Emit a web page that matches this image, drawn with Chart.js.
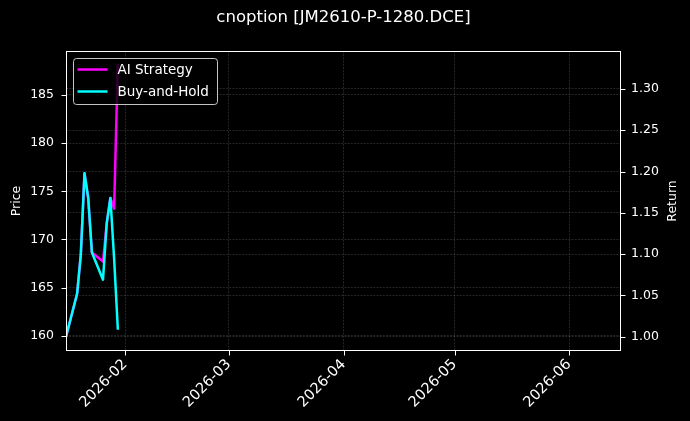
<!DOCTYPE html>
<html>
<head>
<meta charset="utf-8">
<title>cnoption [JM2610-P-1280.DCE]</title>
<script src="https://cdn.jsdelivr.net/npm/chart.js@4.4.0/dist/chart.umd.min.js"></script>
<style>
  html, body { margin: 0; padding: 0; background: #000; }
  #wrap { width: 690px; height: 421px; }
</style>
</head>
<body>
<div id="wrap"><canvas id="chart" width="690" height="421"></canvas></div>
<script>
// Trading days with a return value
var dates = ['2026-01-16', '2026-01-19', '2026-01-20', '2026-01-21', '2026-01-22', '2026-01-23',
             '2026-01-26', '2026-01-27', '2026-01-28', '2026-01-29', '2026-01-30'];
var aiStrategy = [1.000, 1.052, 1.099, 1.198, 1.168, 1.102, 1.091, 1.137, 1.168, 1.155, 1.329];
var buyAndHold = [1.000, 1.052, 1.099, 1.198, 1.168, 1.102, 1.069, 1.137, 1.168, 1.095, 1.010];

// Axis ticks
var monthTicks = ['2026-02-01', '2026-03-01', '2026-04-01', '2026-05-01', '2026-06-01'];
var monthLabels = ['2026-02', '2026-03', '2026-04', '2026-05', '2026-06'];
var priceTicks = [160, 165, 170, 175, 180, 185];
var returnTicks = [1.00, 1.05, 1.10, 1.15, 1.20, 1.25, 1.30];

var X_MIN = Date.parse('2026-01-16');
var X_MAX = Date.parse('2026-06-15');

(function () {
  'use strict';

  var FONT = 'DejaVu Sans';
  var gridColor = 'rgba(150,150,150,0.42)';

  function toPoints(vals) {
    return vals.map(function (v, i) { return { x: Date.parse(dates[i]), y: v }; });
  }

  // Frame, tick marks, legend and titles drawn matplotlib-style
  var decor = {
    id: 'decor',
    afterDatasetsDraw: function (chart) {
      var ctx = chart.ctx;
      var a = chart.chartArea;
      ctx.save();

      // spines
      ctx.strokeStyle = '#fff';
      ctx.lineWidth = 1;
      ctx.setLineDash([]);
      ctx.strokeRect(a.left + 0.5, a.top + 0.5, a.right - a.left - 1, a.bottom - a.top - 1);

      // tick marks
      ctx.beginPath();
      var sx = chart.scales.x;
      sx.ticks.forEach(function (t, i) {
        var p = Math.round(sx.getPixelForTick(i)) + 0.5;
        ctx.moveTo(p, a.bottom); ctx.lineTo(p, a.bottom + 4.5);
      });
      var sy = chart.scales.y;
      sy.ticks.forEach(function (t, i) {
        var p = Math.round(sy.getPixelForTick(i)) + 0.5;
        ctx.moveTo(a.left - 4.5, p); ctx.lineTo(a.left, p);
      });
      var sy1 = chart.scales.y1;
      sy1.ticks.forEach(function (t, i) {
        var p = Math.round(sy1.getPixelForTick(i)) + 0.5;
        ctx.moveTo(a.right, p); ctx.lineTo(a.right + 4.5, p);
      });
      ctx.stroke();

      // legend box
      var lx = a.left + 7.5, ly = a.top + 7.5, lw = 144, lh = 46, r = 3;
      ctx.beginPath();
      ctx.moveTo(lx + r, ly);
      ctx.lineTo(lx + lw - r, ly);
      ctx.arcTo(lx + lw, ly, lx + lw, ly + r, r);
      ctx.lineTo(lx + lw, ly + lh - r);
      ctx.arcTo(lx + lw, ly + lh, lx + lw - r, ly + lh, r);
      ctx.lineTo(lx + r, ly + lh);
      ctx.arcTo(lx, ly + lh, lx, ly + lh - r, r);
      ctx.lineTo(lx, ly + r);
      ctx.arcTo(lx, ly, lx + r, ly, r);
      ctx.closePath();
      ctx.fillStyle = 'rgba(0,0,0,0.8)';
      ctx.fill();
      ctx.strokeStyle = 'rgba(230,230,230,0.85)';
      ctx.stroke();

      ctx.font = '13.5px "' + FONT + '"';
      ctx.textBaseline = 'middle';
      ctx.textAlign = 'left';
      chart.data.datasets.forEach(function (ds, i) {
        var y = ly + 11 + i * 22;
        ctx.strokeStyle = ds.borderColor;
        ctx.lineWidth = 2.5;
        ctx.beginPath();
        ctx.moveTo(lx + 4, y); ctx.lineTo(lx + 34, y);
        ctx.stroke();
        ctx.fillStyle = '#fff';
        ctx.fillText(ds.label, lx + 44, y + 0.5);
      });

      // chart title
      ctx.font = '16.5px "' + FONT + '"';
      ctx.textAlign = 'center';
      ctx.fillText('cnoption [JM2610-P-1280.DCE]', (a.left + a.right) / 2, 18);

      // axis titles
      ctx.font = '12.5px "' + FONT + '"';
      var cy = (a.top + a.bottom) / 2;
      ctx.save();
      ctx.translate(17, cy);
      ctx.rotate(-Math.PI / 2);
      ctx.fillText('Price', 0, 0);
      ctx.restore();
      ctx.save();
      ctx.translate(673, cy);
      ctx.rotate(-Math.PI / 2);
      ctx.fillText('Return', 0, 0);
      ctx.restore();

      ctx.restore();
    }
  };

  var tickFont = { family: FONT, size: 12.5 };

  new Chart(document.getElementById('chart').getContext('2d'), {
    type: 'line',
    data: {
      datasets: [
        {
          label: 'AI Strategy',
          data: toPoints(aiStrategy),
          borderColor: '#ff00ff',
          borderWidth: 2.5,
          pointRadius: 0,
          borderJoinStyle: 'round',
          borderCapStyle: 'square',
          yAxisID: 'y1',
          order: 2
        },
        {
          label: 'Buy-and-Hold',
          data: toPoints(buyAndHold),
          borderColor: '#00ffff',
          borderWidth: 2.5,
          pointRadius: 0,
          borderJoinStyle: 'round',
          borderCapStyle: 'square',
          yAxisID: 'y1',
          order: 1
        }
      ]
    },
    options: {
      responsive: false,
      devicePixelRatio: 1,
      animation: false,
      layout: { padding: { top: 51, left: 0, right: 0, bottom: 0 } },
      plugins: {
        legend: { display: false },
        title: { display: false },
        tooltip: { enabled: false }
      },
      scales: {
        x: {
          type: 'linear',
          min: X_MIN,
          max: X_MAX,
          afterBuildTicks: function (s) {
            s.ticks = monthTicks.map(function (d) { return { value: Date.parse(d) }; });
          },
          afterFit: function (s) { s.height = 70; },
          ticks: {
            color: '#fff',
            font: { family: FONT, size: 14.5 },
            autoSkip: false,
            minRotation: 45,
            maxRotation: 45,
            padding: 5,
            callback: function (v, i) { return monthLabels[i]; }
          },
          grid: { color: gridColor, lineWidth: 0.6, drawTicks: false },
          border: { display: false, dash: [2, 1.2] }
        },
        y: {
          position: 'left',
          min: 158.41,
          max: 189.57,
          afterBuildTicks: function (s) {
            s.ticks = priceTicks.map(function (v) { return { value: v }; });
          },
          afterFit: function (s) { s.width = 66; },
          ticks: { color: '#fff', font: tickFont, padding: 12 },
          grid: { color: gridColor, lineWidth: 0.6, drawTicks: false },
          border: { display: false, dash: [2, 1.2] }
        },
        y1: {
          position: 'right',
          min: 0.9827,
          max: 1.3459,
          afterBuildTicks: function (s) {
            s.ticks = returnTicks.map(function (v) { return { value: v }; });
          },
          afterFit: function (s) { s.width = 69; },
          ticks: {
            color: '#fff',
            font: tickFont,
            padding: 10,
            callback: function (v) { return v.toFixed(2); }
          },
          grid: { color: gridColor, lineWidth: 0.6, drawTicks: false },
          border: { display: false, dash: [2, 1.2] }
        }
      }
    },
    plugins: [decor]
  });
})();
</script>
</body>
</html>
